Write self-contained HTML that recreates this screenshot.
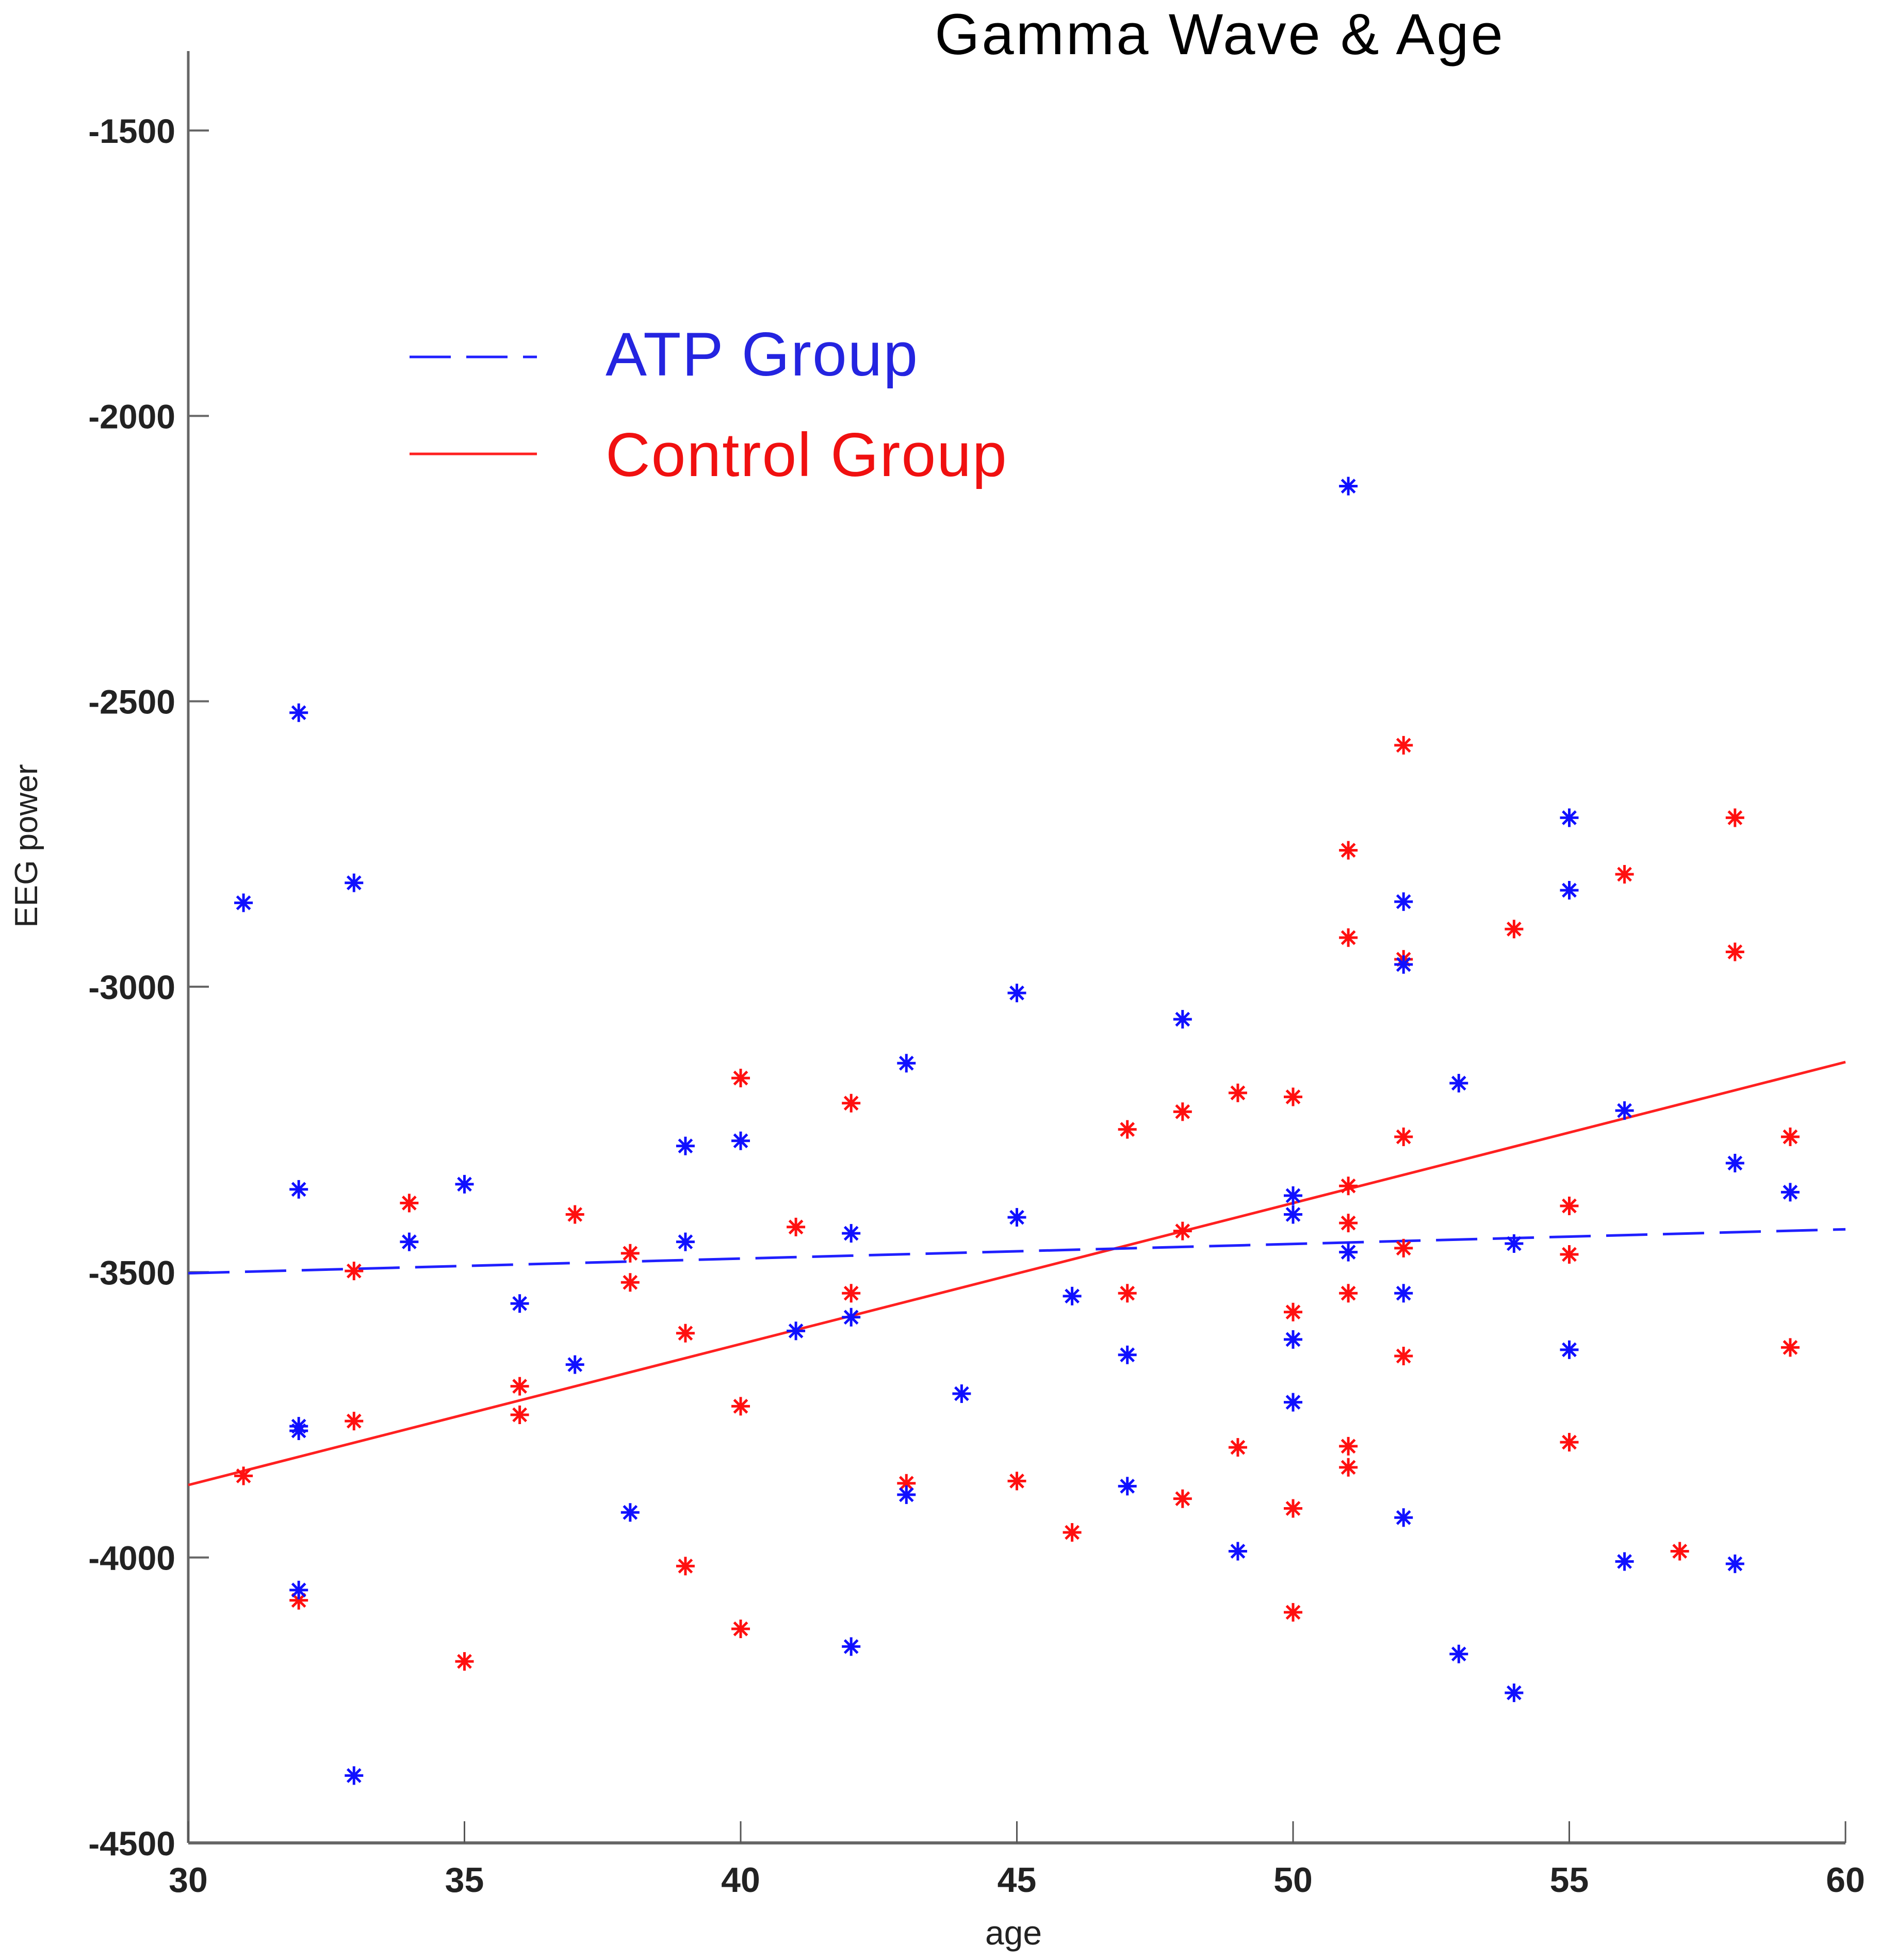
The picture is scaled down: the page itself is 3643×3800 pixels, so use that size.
<!DOCTYPE html>
<html><head><meta charset="utf-8"><style>
html,body{margin:0;padding:0;background:#fff;}
svg{display:block;font-family:"Liberation Sans",Arial,sans-serif;}
</style></head><body>
<svg id="chart" width="3643" height="3800" viewBox="0 0 3643 3800" xmlns="http://www.w3.org/2000/svg">
<text x="2365" y="105" font-size="112" letter-spacing="4" text-anchor="middle" fill="#000">Gamma Wave &amp; Age</text>
<g id="axes"></g>
<g id="marks"></g>
<g>
<line x1="794" y1="692" x2="1041" y2="692" stroke="#2020ff" stroke-width="5" stroke-dasharray="80,30"/>
<text x="1174" y="728" font-size="120" letter-spacing="2" fill="#2424e0">ATP Group</text>
<line x1="794" y1="880" x2="1041" y2="880" stroke="#ff2020" stroke-width="5"/>
<text x="1174" y="923" font-size="120" letter-spacing="2" fill="#f01010">Control Group</text>
</g>
<text transform="translate(72,1640) rotate(-90)" font-size="62" text-anchor="middle" fill="#222">EEG power</text>
<text x="1965" y="3770" font-size="66" text-anchor="middle" fill="#222">age</text>
</svg>
<script>
const xTicks=[30,35,40,45,50,55,60];
const yTicks=[-1500,-2000,-2500,-3000,-3500,-4000,-4500];
const atpAge=[31,32,32,32,32,32,33,33,34,35,36,37,38,39,39,40,41,42,42,42,43,43,44,45,45,46,47,47,48,49,50,50,50,50,51,51,52,52,52,52,53,53,54,54,55,55,55,56,56,58,58,59];
const atpPower=[-2853,-2520,-3355,-3770,-3778,-4057,-2818,-4382,-3447,-3346,-3555,-3662,-3921,-3279,-3447,-3270,-3603,-3432,-3579,-4156,-3134,-3890,-3713,-3011,-3404,-3542,-3645,-3875,-3057,-3989,-3366,-3399,-3618,-3728,-2123,-3465,-2851,-2961,-3537,-3930,-3169,-4169,-3450,-4237,-2704,-2831,-3636,-3217,-4007,-3309,-4011,-3360];
const ctrlAge=[31,32,33,33,34,35,36,36,37,38,38,39,39,40,40,40,41,42,42,43,45,46,47,47,48,48,48,49,49,50,50,50,50,51,51,51,51,51,51,51,52,52,52,52,52,54,55,55,55,56,57,58,58,59,59];
const ctrlPower=[-3857,-4075,-3498,-3761,-3379,-4182,-3700,-3750,-3399,-3467,-3518,-3607,-4015,-3160,-3735,-4125,-3421,-3204,-3537,-3870,-3866,-3956,-3250,-3537,-3219,-3428,-3897,-3186,-3807,-3193,-3570,-3914,-4096,-2761,-2914,-3349,-3414,-3537,-3805,-3842,-2577,-2952,-3263,-3458,-3647,-2899,-3384,-3469,-3798,-2803,-3989,-2704,-2939,-3263,-3632];
const atpFit=[-3502,-3425];
const ctrlFit=[-3873,-3132];
const fitAges=[30,60];

const NS="http://www.w3.org/2000/svg";
const X0=365,X1=3578,Y0=253,Y1=3573;
const sx=v=>X0+(v-30)/(60-30)*(X1-X0);
const sy=v=>Y0+(v-(-1500))/(-4500-(-1500))*(Y1-Y0);
function mk(tag,attrs,parent){const e=document.createElementNS(NS,tag);for(const k in attrs)e.setAttribute(k,attrs[k]);parent.appendChild(e);return e;}
const axes=document.getElementById('axes'),marks=document.getElementById('marks');
let e=mk('line',{x1:X0,y1:99,x2:X0,y2:Y1,stroke:'#666','stroke-width':5},axes);


e=mk('line',{x1:X0,y1:Y1,x2:X1,y2:Y1,stroke:'#666','stroke-width':6},axes);


xTicks.forEach(t=>{
 let l=mk('line',{x1:sx(t),y1:Y1,x2:sx(t),y2:Y1-42,stroke:'#555','stroke-width':3},axes);
 
 
 let tx=mk('text',{x:sx(t),y:3668,'font-size':68,'text-anchor':'middle','font-weight':'bold',fill:'#222'},axes);
 tx.textContent=t;
 
 
});
yTicks.forEach(t=>{
 let l=mk('line',{x1:X0,y1:sy(t),x2:X0+40,y2:sy(t),stroke:'#666','stroke-width':4},axes);
 
 
 let tx=mk('text',{x:340,y:sy(t)+24,'font-size':66,'text-anchor':'end','font-weight':'bold',fill:'#222'},axes);
 tx.textContent=t;
 
 
});
function star(cx,cy,col,name){
 const g=mk('g',{stroke:col,'stroke-width':5},marks);
 
 
 const r=18;
 mk('line',{x1:cx,y1:cy-r,x2:cx,y2:cy+r},g);
 mk('line',{x1:cx-r,y1:cy,x2:cx+r,y2:cy},g);
 mk('line',{x1:cx-r*0.7,y1:cy-r*0.7,x2:cx+r*0.7,y2:cy+r*0.7},g);
 mk('line',{x1:cx-r*0.7,y1:cy+r*0.7,x2:cx+r*0.7,y2:cy-r*0.7},g);
}
let f=mk('line',{x1:sx(fitAges[0]),y1:sy(ctrlFit[0]),x2:sx(fitAges[1]),y2:sy(ctrlFit[1]),stroke:'#ff2020','stroke-width':5},marks);


f=mk('line',{x1:sx(fitAges[0]),y1:sy(atpFit[0]),x2:sx(fitAges[1]),y2:sy(atpFit[1]),stroke:'#2020ff','stroke-width':5,'stroke-dasharray':'80,30'},marks);


ctrlAge.forEach((a,i)=>star(sx(a),sy(ctrlPower[i]),'#ff1010','control-point'));
atpAge.forEach((a,i)=>star(sx(a),sy(atpPower[i]),'#1010ff','atp-point'));
</script>
</body></html>
